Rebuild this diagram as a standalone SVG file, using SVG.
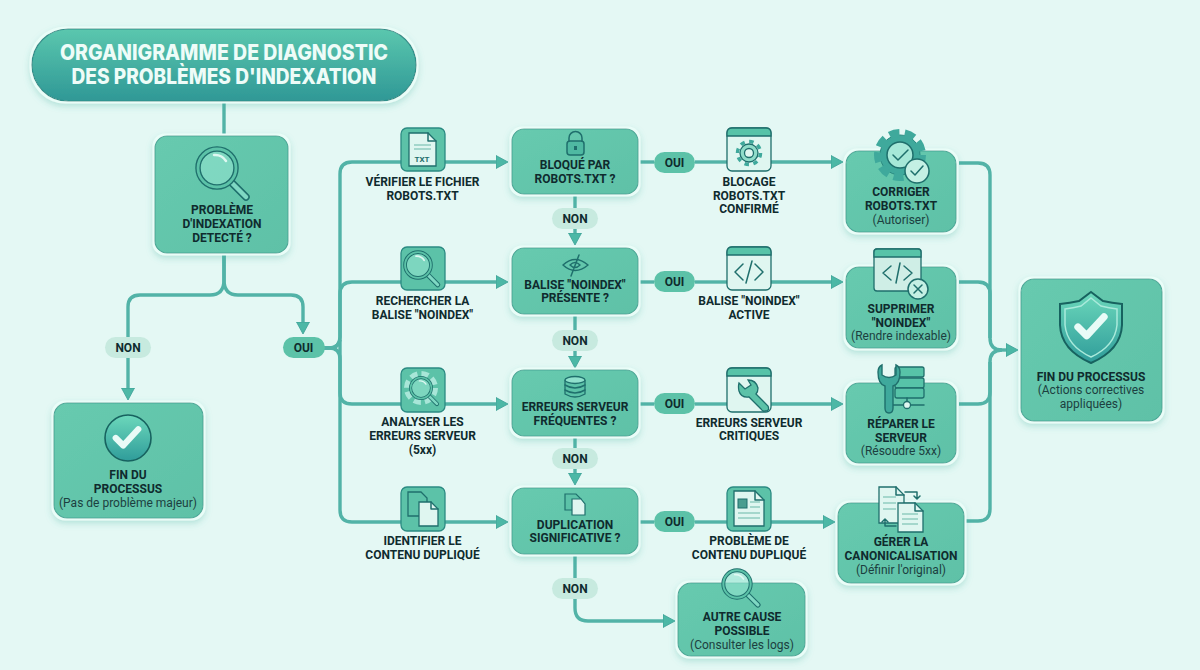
<svg xmlns="http://www.w3.org/2000/svg" width="1200" height="670" viewBox="0 0 1200 670">
<style>
text{font-family:Roboto,"Liberation Sans",Arial,sans-serif;fill:#0f2b2e;text-anchor:middle}
.b{font-weight:700;font-size:12px}
.r{font-weight:400;font-size:12px;fill:#1c3f40}
.t{font-family:Inter,"Open Sans","Liberation Sans",sans-serif;font-weight:800;font-size:21px;fill:#eefcf8}
.n{fill:url(#nodeFill);stroke:#4aa898;stroke-width:1.1;filter:url(#halo)}
.ib{fill:#5cc2a8;stroke:#2b8a82;stroke-width:1.3}
.w{fill:#dff6f0;stroke:#1f6f6c;stroke-width:1.3}
.bar{fill:#57c3a8;stroke:#1f6f6c;stroke-width:1.3}
.ln{fill:none;stroke:#1f6f6c;stroke-width:1.5;stroke-linecap:round;stroke-linejoin:round}
.ln2{fill:none;stroke:#6bb8a8;stroke-width:1.2}
.oui{fill:#5cc2a8}
.non{fill:#c7eadf}
.c{fill:none;stroke:#52b3a7;stroke-width:3.4;stroke-linejoin:round}
.a{marker-end:url(#arr)}
</style>
<defs>
<linearGradient id="titleFill" x1="0" y1="0" x2="0" y2="1"><stop offset="0" stop-color="#5bc7ae"/><stop offset="1" stop-color="#2f9896"/></linearGradient>
<linearGradient id="nodeFill" x1="0" y1="0" x2="1" y2="1"><stop offset="0" stop-color="#67caaf"/><stop offset="1" stop-color="#5fc1a7"/></linearGradient>
<linearGradient id="badge" x1="0" y1="0" x2="0" y2="1"><stop offset="0" stop-color="#6cd8bb"/><stop offset="1" stop-color="#2f9c9a"/></linearGradient>
<filter id="halo" x="-15%" y="-15%" width="130%" height="135%">
<feMorphology in="SourceAlpha" operator="dilate" radius="1.5" result="d"/>
<feFlood flood-color="#e9fdf8" result="f"/><feComposite in="f" in2="d" operator="in" result="h"/>
<feGaussianBlur in="d" stdDeviation="3" result="b"/><feOffset in="b" dy="3" result="o"/>
<feFlood flood-color="#3cae9b" flood-opacity=".28"/><feComposite in2="o" operator="in" result="s"/>
<feMerge><feMergeNode in="s"/><feMergeNode in="h"/><feMergeNode in="SourceGraphic"/></feMerge>
</filter>
<marker id="arr" markerUnits="userSpaceOnUse" markerWidth="14" markerHeight="14" refX="8" refY="7" orient="auto"><path d="M0 .5L12 7L0 13.5z" fill="#4cb8a6" stroke="#3ba096" stroke-width=".8"/></marker>
<g id="mag"><path d="M15 15L29 29" stroke="#1f6f6c" stroke-width="7.500" stroke-linecap="round"/><path d="M15 15L29 29" stroke="#7fd8c3" stroke-width="4.500" stroke-linecap="round"/><circle r="19" fill="#93e2cf" fill-opacity=".6" stroke="#1f6f6c" stroke-width="5.500"/><circle r="19" fill="none" stroke="#5cc2a8" stroke-width="2.800"/><path d="M-3 -13A13 13 0 0 1 9 -7" fill="none" stroke="#dff8f2" stroke-width="2.500" stroke-linecap="round"/></g>
<path id="chk" d="M-9 0L-3 6L9 -7" fill="none" stroke="#e9fbf7" stroke-width="5" stroke-linecap="round" stroke-linejoin="round"/>
</defs>
<rect width="1200" height="670" fill="#e4f8f4"/>

<g id="connectors">
<path class="c" d="M224 101V135"/>
<path class="c" d="M224 253V280Q224 295 210 295H140Q128 295 128 307V337"/>
<path class="c" d="M224 253V280Q224 295 238 295H291Q303 295 303 307V330" marker-end="url(#arr)"/>
<path class="c a" d="M128 358V396"/>
<path class="c" d="M324 348H329Q340 348 340 337V174Q340 162 352 162H401"/>
<path class="c" d="M324 348H329Q340 348 340 337V294Q340 282 352 282H401"/>
<path class="c" d="M324 348H329Q340 348 340 359V393Q340 404 352 404H401"/>
<path class="c" d="M340 340V510Q340 522 352 522H401"/>
<path class="c a" d="M445 162H504"/>
<path class="c a" d="M445 282H504"/>
<path class="c a" d="M445 404H504"/>
<path class="c a" d="M445 522H504"/>
<path class="c" d="M640 162H654"/><path class="c" d="M640 282H654"/><path class="c" d="M640 404H654"/><path class="c" d="M640 522H654"/>
<path class="c" d="M695 162H727"/><path class="c" d="M695 282H727"/><path class="c" d="M695 404H727"/><path class="c" d="M695 522H727"/>
<path class="c a" d="M771 162H839"/>
<path class="c a" d="M771 282H839"/>
<path class="c a" d="M771 404H839"/>
<path class="c a" d="M771 522H831"/>
<path class="c a" d="M575 194V241"/>
<path class="c a" d="M575 314V364"/>
<path class="c a" d="M575 436V481"/>
<path class="c a" d="M575 554V608Q575 621 588 621H671"/>
<path class="c" d="M959 163H978Q990 163 990 175V338Q990 350 1002 350"/>
<path class="c" d="M959 282H978Q990 282 990 294V338"/>
<path class="c" d="M959 404H978Q990 404 990 392V362Q990 350 1002 350"/>
<path class="c" d="M966 521H978Q990 521 990 509V362"/>
<path class="c a" d="M1002 350H1014"/>
</g>

<g id="title"><rect x="32" y="29" width="384" height="72" rx="36" fill="url(#titleFill)" stroke="#2f8f8a" stroke-width="1.2" filter="url(#halo)"/>
<text class="t" x="224" y="60" textLength="328" lengthAdjust="spacingAndGlyphs">ORGANIGRAMME DE DIAGNOSTIC</text>
<text class="t" x="224" y="84" textLength="305" lengthAdjust="spacingAndGlyphs">DES PROBLÈMES D'INDEXATION</text></g>

<g id="q-start"><rect class="n" x="155" y="136" width="133" height="117" rx="12"/>
<use href="#mag" transform="translate(217 168)"/>
<text class="b" x="222" y="214">PROBLÈME</text><text class="b" x="222" y="228">D'INDEXATION</text><text class="b" x="222" y="242">DETECTÉ ?</text></g>

<g id="pill-non-start"><rect class="non" x="105" y="337" width="46" height="21" rx="10.5"/><text class="b" x="128" y="352">NON</text></g>
<g id="pill-oui-start"><rect class="oui" x="283" y="337" width="42" height="21" rx="10.5"/><text class="b" x="303.500" y="352">OUI</text></g>

<g id="end-none"><rect class="n" x="54" y="403" width="149" height="115" rx="13"/>
<circle cx="128" cy="438" r="23" fill="url(#badge)" stroke="#17625f" stroke-width="1.6"/><use href="#chk" transform="translate(127 438) scale(1.25)"/>
<text class="b" x="128" y="479">FIN DU</text><text class="b" x="128" y="493">PROCESSUS</text><text class="r" x="128" y="507">(Pas de problème majeur)</text></g>

<g id="step-robots"><rect class="ib" x="401" y="128" width="44" height="43" rx="6"/>
<path class="w" d="M409 133H428L436 141V166H409z"/><path class="ln" d="M428 133V141H436"/><path class="ln2" d="M414 145H431M414 149H431"/>
<text x="422" y="162" style="font-size:8px;font-weight:700;fill:#1f6f6c">TXT</text>
<text class="b" x="422.500" y="186">VÉRIFIER LE FICHIER</text><text class="b" x="422.500" y="200">ROBOTS.TXT</text></g>

<g id="step-noindex"><rect class="ib" x="401" y="247" width="44" height="43" rx="6"/>
<use href="#mag" transform="translate(418 265) scale(.68)"/>
<text class="b" x="422.500" y="305">RECHERCHER LA</text><text class="b" x="422.500" y="319">BALISE "NOINDEX"</text></g>

<g id="step-server"><rect class="ib" x="401" y="368" width="44" height="44" rx="6"/>
<circle cx="421" cy="388" r="14" fill="none" stroke="#a8e6d8" stroke-width="6" stroke-dasharray="7 4"/>
<use href="#mag" transform="translate(421 388) scale(.55)"/>
<text class="b" x="422.500" y="426">ANALYSER LES</text><text class="b" x="422.500" y="440">ERREURS SERVEUR</text><text class="b" x="422.500" y="454">(5xx)</text></g>

<g id="step-dup"><rect class="ib" x="401" y="487" width="44" height="44" rx="6"/>
<path d="M408 492H421L427 498V516H408z" fill="#5cc2a8" stroke="#1f6f6c" stroke-width="1.3"/><path class="w" d="M419 502H431L438 509V526H419z"/><path class="ln" d="M431 502V509H438"/>
<text class="b" x="422.500" y="545">IDENTIFIER LE</text><text class="b" x="422.500" y="559">CONTENU DUPLIQUÉ</text></g>

<g id="q-robots"><rect class="n" x="512" y="129" width="126" height="65" rx="12"/>
<rect x="567" y="141" width="17" height="14" rx="3" fill="#4fb9a2" stroke="#1f6f6c" stroke-width="1.500"/><path class="ln" d="M569 141V138A6.500 6.500 0 0 1 582 138V141"/><rect x="574" y="146" width="3" height="4" fill="#1f6f6c"/>
<text class="b" x="575" y="169">BLOQUÉ PAR</text><text class="b" x="575" y="183">ROBOTS.TXT ?</text></g>

<g id="q-noindex"><rect class="n" x="512" y="248" width="126" height="66" rx="12"/>
<path class="ln" d="M563 265Q575 254 588 265Q575 276 563 265z"/><path class="ln" d="M579 255L571 276M570 265Q575 260 580 265Q575 270 570 265z"/>
<text class="b" x="575" y="289">BALISE "NOINDEX"</text><text class="b" x="575" y="302">PRÉSENTE ?</text></g>

<g id="q-server"><rect class="n" x="512" y="370" width="126" height="66" rx="12"/>
<path d="M565 380V394Q575 400 585 394V380" fill="#5cc2a8" stroke="#1f6f6c" stroke-width="1.300"/><ellipse cx="575" cy="380" rx="10" ry="3.500" fill="#8fe0cc" stroke="#1f6f6c" stroke-width="1.300"/><path class="ln" d="M565 385Q575 391 585 385M565 390Q575 396 585 390"/>
<text class="b" x="575" y="411">ERREURS SERVEUR</text><text class="b" x="575" y="425">FRÉQUENTES ?</text></g>

<g id="q-dup"><rect class="n" x="512" y="488" width="126" height="66" rx="12"/>
<path d="M565 494H576L581 499V510H565z" fill="#5cc2a8" stroke="#1f6f6c" stroke-width="1.200"/><path d="M572 499H581L585 504V515H572z" fill="#dff6f0" stroke="#1f6f6c" stroke-width="1.200"/>
<text class="b" x="575" y="529">DUPLICATION</text><text class="b" x="575" y="542">SIGNIFICATIVE ?</text></g>

<g id="pill-non-1"><rect class="non" x="552" y="208" width="46" height="21" rx="10.5"/><text class="b" x="575" y="223">NON</text></g>
<g id="pill-non-2"><rect class="non" x="552" y="330" width="46" height="21" rx="10.5"/><text class="b" x="575" y="345">NON</text></g>
<g id="pill-non-3"><rect class="non" x="552" y="448" width="46" height="21" rx="10.5"/><text class="b" x="575" y="463">NON</text></g>
<g id="pill-non-4"><rect class="non" x="552" y="578" width="46" height="21" rx="10.5"/><text class="b" x="575" y="593">NON</text></g>
<g id="pill-oui-1"><rect class="oui" x="654" y="152" width="41" height="21" rx="10.5"/><text class="b" x="674.500" y="167">OUI</text></g>
<g id="pill-oui-2"><rect class="oui" x="654" y="271" width="41" height="21" rx="10.5"/><text class="b" x="674.500" y="286">OUI</text></g>
<g id="pill-oui-3"><rect class="oui" x="654" y="393" width="41" height="21" rx="10.5"/><text class="b" x="674.500" y="408">OUI</text></g>
<g id="pill-oui-4"><rect class="oui" x="654" y="511" width="41" height="21" rx="10.5"/><text class="b" x="674.500" y="526">OUI</text></g>

<g id="state-robots"><rect class="w" x="727" y="128" width="44" height="43" rx="5"/><path class="bar" d="M727 136V133Q727 128 732 128H766Q771 128 771 133V136z"/>
<circle cx="749" cy="153" r="11.500" fill="none" stroke="#3fa99c" stroke-width="3.500" stroke-dasharray="4.500 4.500"/><circle cx="749" cy="153" r="9" fill="#8fdcc9" stroke="#1f6f6c" stroke-width="1.300"/><circle cx="749" cy="153" r="4.500" fill="#dff6f0" stroke="#1f6f6c" stroke-width="1.300"/>
<text class="b" x="749" y="186">BLOCAGE</text><text class="b" x="749" y="200">ROBOTS.TXT</text><text class="b" x="749" y="213">CONFIRMÉ</text></g>

<g id="state-noindex"><rect class="w" x="727" y="247" width="44" height="43" rx="5"/><path class="bar" d="M727 255V252Q727 247 732 247H766Q771 247 771 252V255z"/>
<path class="ln" d="M743 264L735 272L743 280M755 264L763 272L755 280M752 261L746 283"/>
<text class="b" x="749" y="305">BALISE "NOINDEX"</text><text class="b" x="749" y="319">ACTIVE</text></g>

<g id="state-server"><rect class="w" x="727" y="368" width="44" height="44" rx="5"/><path class="bar" d="M727 376V373Q727 368 732 368H766Q771 368 771 373V376z"/>
<path d="M739 383L745 389L751 385L748 380Q756 380 758 388Q758 392 756 394L768 406Q770 411 765 411Q763 412 761 409L749 397Q741 398 739 391Q738 387 739 383z" fill="#5cc2a8" stroke="#1f6f6c" stroke-width="1.300"/>
<text class="b" x="749" y="427">ERREURS SERVEUR</text><text class="b" x="749" y="440">CRITIQUES</text></g>

<g id="state-dup"><rect class="ib" x="727" y="487" width="44" height="44" rx="6"/>
<path class="w" d="M734 491H755L764 500V526H734z"/><path class="ln" d="M755 491V500H764"/><rect x="738" y="499" width="9" height="9" fill="#4a9d90" stroke="#1f6f6c"/><path class="ln2" d="M750 502H760M750 507H760M738 513H760M738 518H760"/>
<text class="b" x="749" y="545">PROBLÈME DE</text><text class="b" x="749" y="559">CONTENU DUPLIQUÉ</text></g>

<g id="fix-robots"><rect class="n" x="846" y="151" width="110" height="81" rx="13"/>
<circle cx="900" cy="155" r="20" fill="#3fa99c" stroke="#2b8a82" stroke-width="1"/><circle cx="900" cy="155" r="22" fill="none" stroke="#3fa99c" stroke-width="8" stroke-dasharray="10 5.400"/>
<circle cx="900" cy="155" r="13" fill="#a6e8d8" stroke="#1f6f6c" stroke-width="1.500"/><path class="ln" d="M893 155L898 160L908 150" stroke-width="2.500"/>
<circle cx="917" cy="171" r="12" fill="#c4f0e4" stroke="#1f6f6c" stroke-width="1.500"/><path class="ln" d="M911 171L915 175L923 166" stroke-width="2.500"/>
<text class="b" x="901" y="196">CORRIGER</text><text class="b" x="901" y="210">ROBOTS.TXT</text><text class="r" x="901" y="224">(Autoriser)</text></g>

<g id="fix-noindex"><rect class="n" x="846" y="267" width="110" height="81" rx="13"/>
<rect class="w" x="874" y="249" width="47" height="42" rx="3" style="fill:#cfeee6"/><path class="bar" d="M874 257V252Q874 249 877 249H918Q921 249 921 252V257z"/>
<path class="ln" d="M891 266L883 273L891 280M904 266L912 273L904 280M900 263L896 283"/>
<circle cx="918" cy="289" r="10" fill="#c4f0e4" stroke="#1f6f6c" stroke-width="1.500"/><path class="ln" d="M914 285L922 293M922 285L914 293"/>
<text class="b" x="901" y="313">SUPPRIMER</text><text class="b" x="901" y="327">"NOINDEX"</text><text class="r" x="901" y="340">(Rendre indexable)</text></g>

<g id="fix-server"><rect class="n" x="846" y="383" width="110" height="80" rx="13"/>
<rect class="bar" x="895" y="367" width="29" height="10" rx="2"/><rect class="bar" x="895" y="378" width="29" height="10" rx="2"/><rect class="bar" x="895" y="388" width="29" height="10" rx="2"/>
<path class="ln" d="M893 405H924M907 398V401"/><circle cx="907" cy="405" r="3.500" class="w"/>
<path d="M878 372Q878 384 885 386V408Q885 413 889 413Q893 413 893 408V386Q900 384 900 372Q900 367 896 365V375Q889 380 882 375V365Q878 367 878 372z" fill="#3fa99c" stroke="#1f6f6c" stroke-width="1.400"/>
<text class="b" x="901" y="428">RÉPARER LE</text><text class="b" x="901" y="442">SERVEUR</text><text class="r" x="901" y="455">(Résoudre 5xx)</text></g>

<g id="fix-dup"><rect class="n" x="838" y="503" width="126" height="80" rx="13"/>
<path class="w" d="M879 487H896L904 495V523H879z"/><path class="ln" d="M896 487V495H904"/><path class="ln2" d="M883 497H896M883 503H896M883 509H896"/>
<path class="w" d="M898 503H915L923 511V532H898z"/><path class="ln" d="M915 503V511H923"/><path class="ln2" d="M902 514H918M902 519H918M902 524H918"/>
<path class="ln" d="M905 492H917V498M914 496L917 499L920 496M896 526H885V520M882 522L885 519L888 522"/>
<text class="b" x="901" y="546">GÉRER LA</text><text class="b" x="901" y="560">CANONICALISATION</text><text class="r" x="901" y="574">(Définir l'original)</text></g>

<g id="other-cause"><rect class="n" x="678" y="583" width="127" height="73" rx="13"/>
<use href="#mag" transform="translate(737 584) scale(.72)"/>
<text class="b" x="742" y="621">AUTRE CAUSE</text><text class="b" x="742" y="635">POSSIBLE</text><text class="r" x="742" y="649">(Consulter les logs)</text></g>

<g id="end-fixed"><rect class="n" x="1021" y="279" width="141" height="142" rx="13"/>
<path d="M1091 292L1103 301Q1112 303 1122 304V325Q1121 350 1091 363Q1061 350 1060 325V304Q1070 303 1079 301z" fill="url(#badge)" stroke="#17625f" stroke-width="2"/>
<path d="M1091 298L1101 306Q1109 308 1117 309V325Q1115 346 1091 357Q1067 346 1065 325V309Q1073 308 1081 306z" fill="none" stroke="#a9eadb" stroke-width="1.500"/>
<use href="#chk" transform="translate(1091 327) scale(1.45)"/>
<text class="b" x="1091" y="381">FIN DU PROCESSUS</text><text class="r" x="1091" y="394">(Actions correctives</text><text class="r" x="1091" y="408">appliquées)</text></g>
</svg>
